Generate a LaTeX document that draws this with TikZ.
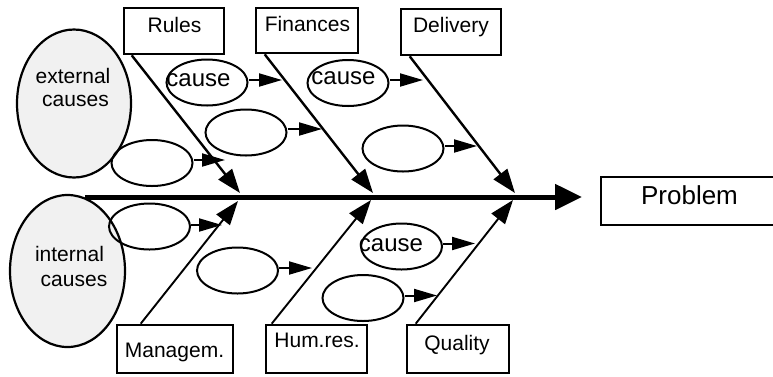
\documentclass[tikz,border=0pt]{standalone}
\usepackage{fontspec}
\setmainfont{Liberation Sans}
\usetikzlibrary{arrows.meta,shapes.geometric,calc}
\definecolor{pale}{RGB}{241,241,241}

\begin{document}
\begin{tikzpicture}[x=1pt,y=-1pt,
  catbox/.style={draw,line width=2.6pt,fill=white,inner sep=0pt},
  group/.style={ellipse,draw,line width=2.2pt,fill=pale,inner sep=0pt},
  cause/.style={ellipse,draw,line width=2pt,inner sep=0pt,minimum width=81pt,minimum height=46pt},
  txt/.style={anchor=base,inner sep=0pt,font=\fontsize{21}{21}\selectfont},
  ctxt/.style={anchor=base,inner sep=0pt,font=\fontsize{24}{24}\selectfont},
  bone/.style={line width=2.4pt,-{Triangle[length=24pt,width=17pt]}},
  lowbone/.style={line width=1.9pt,-{Triangle[length=24pt,width=17pt]}},
  feed/.style={line width=2pt,-{Triangle[length=23pt,width=13pt]}},
  spine/.style={line width=5pt,-{Triangle[length=27pt,width=25pt]}}
]
\clip (0,0) rectangle (773,376);

% the two groups of causes
\node[group,minimum width=114pt,minimum height=148pt] (ext) at (74,103.5) {};
\node[group,minimum width=115pt,minimum height=152pt] (int) at (67.5,271) {};
\node[txt] (ext1) at (73,83) {external};
\node[txt] (ext2) at (75.5,106) {causes};
\node[txt] (int1) at (69.5,261) {internal};
\node[txt] (int2) at (74,286) {causes};

% individual causes
\node[cause] (c1) at (207,82.5) {};
\node[cause] (c2) at (246,132.5) {};
\node[cause] (c3) at (152,163) {};
\node[cause] (c4) at (348,83) {};
\node[cause] (c5) at (403,148.5) {};
\node[cause] (c6) at (149.5,226.5) {};
\node[cause] (c7) at (237.5,270.5) {};
\node[cause] (c8) at (401.5,246.5) {};
\node[cause] (c9) at (363,298) {};
\node[ctxt] (c1t) at (198.5,86) {cause};
\node[ctxt] (c4t) at (343.5,84.5) {cause};
\node[ctxt] (c8t) at (391,251) {cause};

% category boxes
\node[catbox,minimum width=100pt,minimum height=46pt] (rules) at (174,31) {};
\node[catbox,minimum width=102pt,minimum height=45pt] (fin) at (307,30.5) {};
\node[catbox,minimum width=100pt,minimum height=46pt] (del) at (451,32) {};
\node[catbox,minimum width=116pt,minimum height=48pt] (man) at (175,349) {};
\node[catbox,minimum width=101pt,minimum height=48pt] (hum) at (316.5,349) {};
\node[catbox,minimum width=102pt,minimum height=48pt] (qual) at (458,349) {};
\node[catbox,minimum width=177pt,minimum height=48pt] (prob) at (689.5,201) {};

% spine
\coordinate (tail) at (85,197);
\coordinate (head) at (582,197);
\draw[spine] (tail) -- (head);

% bones
\coordinate (rulesfoot) at ($(rules.south west)+(9,0)$);
\coordinate (finfoot) at ($(fin.south west)+(10,0)$);
\coordinate (delfoot) at ($(del.south west)+(10,0)$);
\coordinate (manfoot) at ($(man.north west)+(25,0)$);
\coordinate (humfoot) at ($(hum.north west)+(7,0)$);
\coordinate (qualfoot) at ($(qual.north west)+(10,0)$);
\coordinate (rulestip) at (240,193);
\coordinate (fintip) at (373,193);
\coordinate (deltip) at (515,193);
\coordinate (mantip) at (238,201);
\coordinate (humtip) at (371,200);
\coordinate (qualtip) at (513,200);
\draw[bone] (rulesfoot) -- (rulestip);
\draw[bone] (finfoot) -- (fintip);
\draw[bone] (delfoot) -- (deltip);
\draw[lowbone] (manfoot) -- (mantip);
\draw[lowbone] (humfoot) -- (humtip);
\draw[lowbone] (qualfoot) -- (qualtip);

% arrows from causes to bones
\coordinate (t1) at (282,80);
\coordinate (t2) at (322,129);
\coordinate (t3) at (225,160);
\coordinate (t4) at (423,80);
\coordinate (t5) at (477,146);
\coordinate (t6) at (222,225);
\coordinate (t7) at (312,268);
\coordinate (t8) at (475,243.5);
\coordinate (t9) at (437,295.5);
\foreach \c in {1,...,9}{
  \draw[feed] (t\c -| c\c.east) -- (t\c);
}

% labels
\node[txt] (rulest) at (174.5,32) {Rules};
\node[txt] (fint) at (307.5,31) {Finances};
\node[txt] (delt) at (451,32) {Delivery};
\node[txt] (mant) at (174.5,357) {Managem.};
\node[txt] (humt) at (317,347) {Hum.res.};
\node[txt] (qualt) at (457,350) {Quality};
\node[anchor=base,inner sep=0pt,font=\fontsize{26}{26}\selectfont] (probt) at (689.5,204) {Problem};
\end{tikzpicture}
\end{document}
